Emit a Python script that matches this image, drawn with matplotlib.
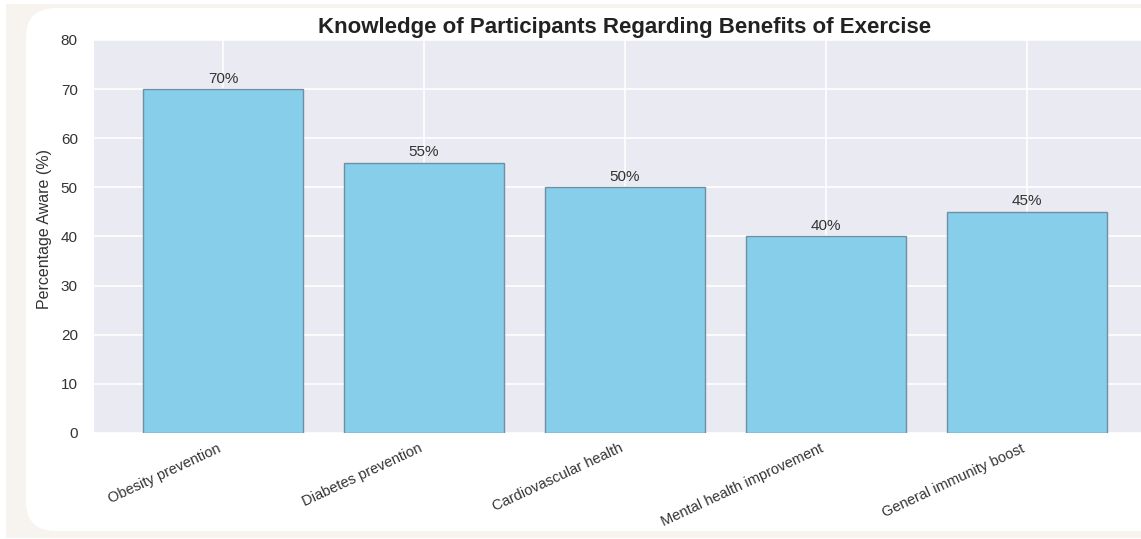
import matplotlib
matplotlib.use("Agg")
import matplotlib.pyplot as plt
from matplotlib.patches import FancyBboxPatch, Rectangle

categories = ["Obesity prevention", "Diabetes prevention", "Cardiovascular health",
              "Mental health improvement", "General immunity boost"]
values = [70, 55, 50, 40, 45]
y_ticks = [0, 10, 20, 30, 40, 50, 60, 70, 80]

plt.rcParams['font.family'] = ['Liberation Sans', 'DejaVu Sans']

W, H = 1141, 539
fig = plt.figure(figsize=(W / 100, H / 100), dpi=100)
fig.patch.set_facecolor('white')

# background card
fig.patches.append(Rectangle((6 / W, 1 - 538 / H), (W - 6) / W, (538 - 4) / H,
                             transform=fig.transFigure, facecolor='#f7f4f0',
                             edgecolor='none', zorder=-2))
fig.patches.append(FancyBboxPatch((26 / W, 1 - 531 / H), (1200 - 26) / W, (531 - 8) / H,
                                  boxstyle="round,pad=0,rounding_size=0.026",
                                  transform=fig.transFigure, facecolor='white',
                                  edgecolor='none', zorder=-1,
                                  mutation_aspect=W / H))

left, right = 94.5, 1155.5
top, bottom = 40, 433
ax = fig.add_axes([left / W, 1 - bottom / H, (right - left) / W, (bottom - top) / H])
ax.set_zorder(1)
ax.set_facecolor('#eaeaf2')
for s in ax.spines.values():
    s.set_visible(False)
ax.grid(True, color='white', linewidth=1.2)
ax.set_axisbelow(True)

x = list(range(len(categories)))
bars = ax.bar(x, values, width=0.8, color='#87ceeb', edgecolor='#6f8fa3', linewidth=1.0)
for xi, v in zip(x, values):
    ax.text(xi, v + 0.7, f"{v}%", ha='center', va='bottom', fontsize=11, color='#333333')

ax.set_xlim(-0.64, 4.64)
ax.set_ylim(0, 80)
ax.set_yticks(y_ticks)
ax.set_xticks(x)
ax.set_xticklabels(categories, rotation=25, ha='right', fontsize=10.5, color='#333333')
ax.tick_params(axis='both', length=0, pad=6)
ax.tick_params(axis='y', labelsize=11, labelcolor='#333333', pad=12)
ax.set_ylabel("Percentage Aware (%)", fontsize=11.5, color='#333333', labelpad=6)
ax.yaxis.set_label_coords(-0.040, 0.52)
ax.set_title("Knowledge of Participants Regarding Benefits of Exercise",
             fontsize=16, fontweight='bold', color='#222222', pad=5)

fig.savefig("out.png", dpi=100)
